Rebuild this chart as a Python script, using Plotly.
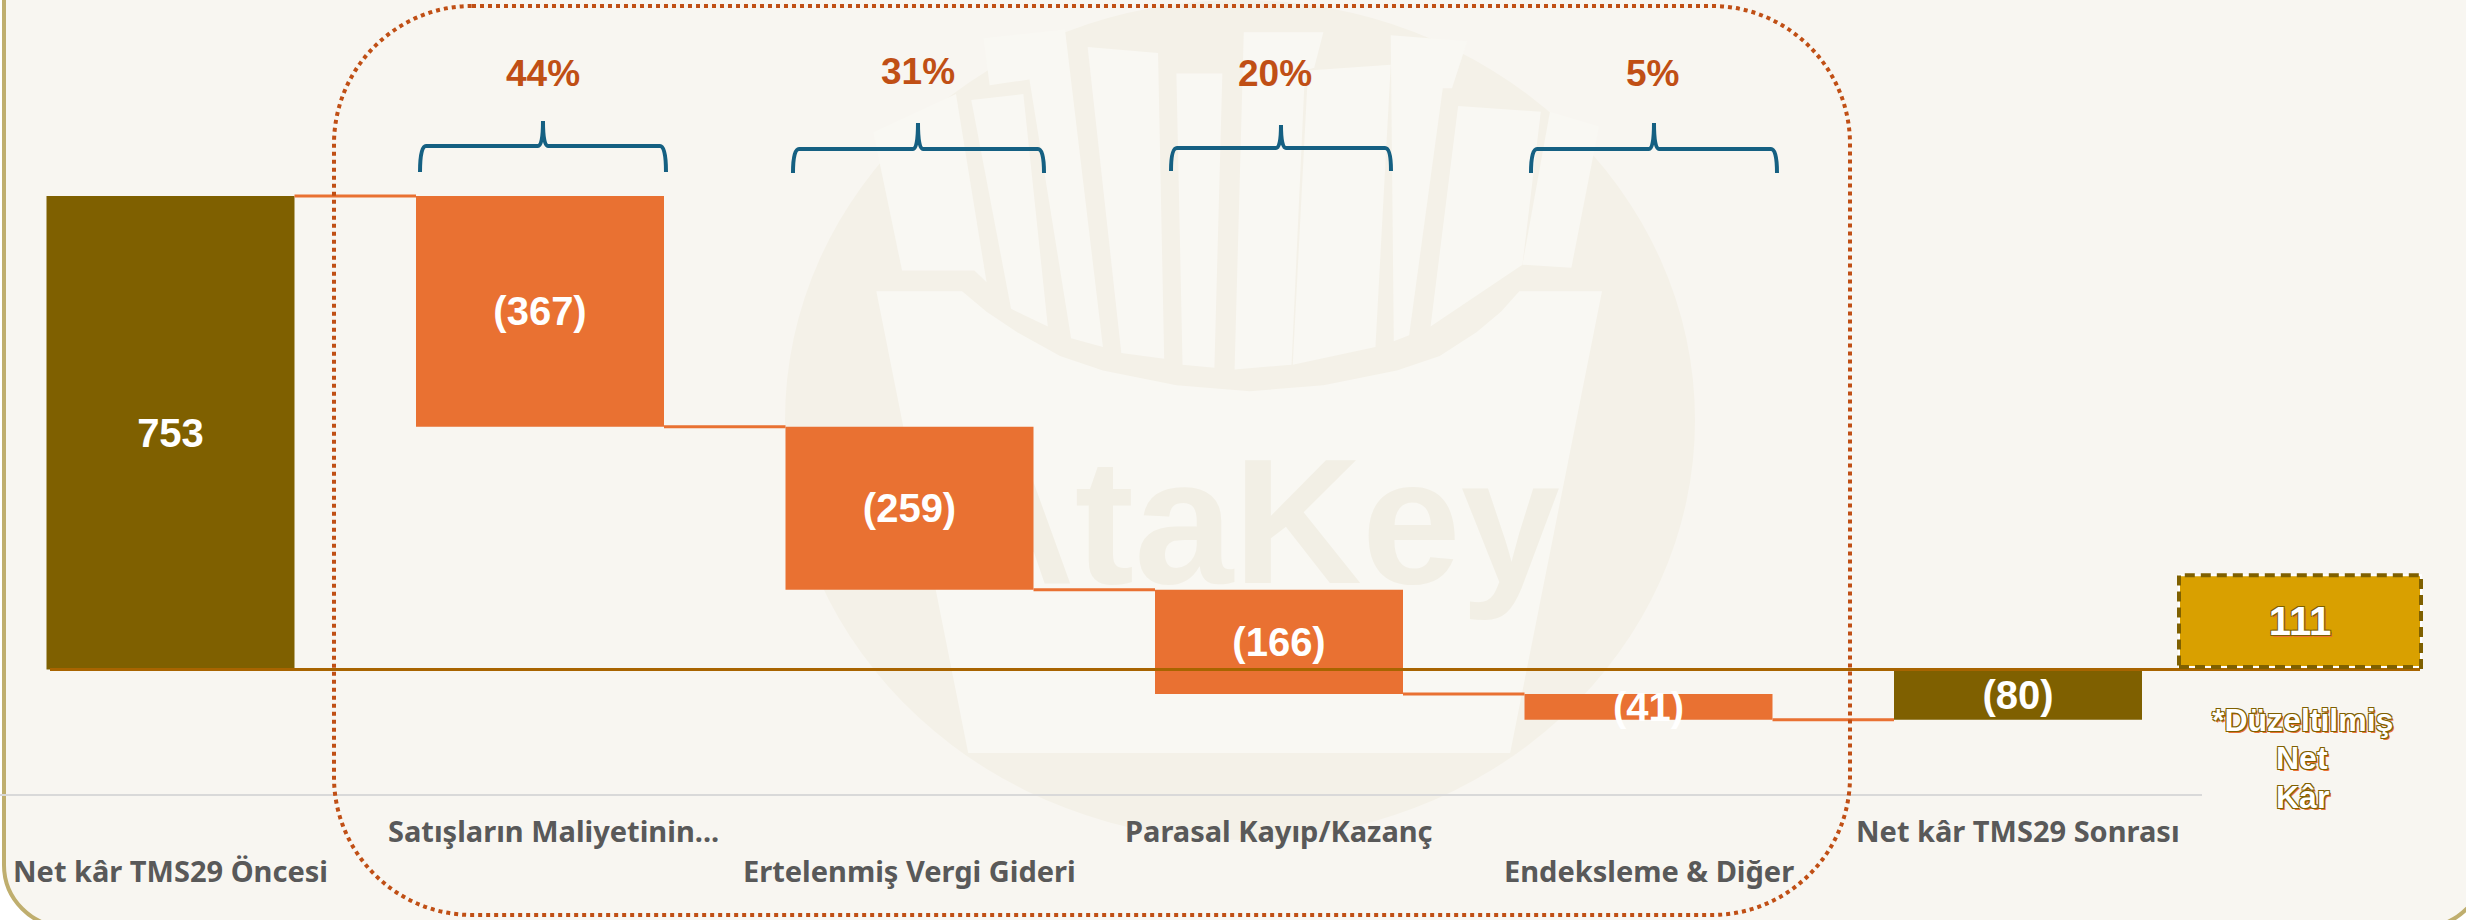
import plotly.graph_objects as go

# ---- data ----
categories = ["Net kâr TMS29 Öncesi", "Satışların Maliyetinin...", "Ertelenmiş Vergi Gideri",
              "Parasal Kayıp/Kazanç", "Endeksleme & Diğer", "Net kâr TMS29 Sonrası"]
steps = [753, -367, -259, -166, -41, -80]
value_labels = ["753", "(367)", "(259)", "(166)", "(41)", "(80)"]
share_labels = ["44%", "31%", "20%", "5%"]
adjusted_label = "111"
adjusted_box_base = 4
adjusted_box_height = 146
adjusted_title = ["*Düzeltilmiş", "Net", "Kâr"]

# ---- styles ----
W, H = 2466, 920
AXIS_Y = 795
BAND = 369.5
X0 = 170.5
BG = "#F8F6F1"
MARK = "#F4F1E8"
LIGHT = "#F9F8F3"
BROWN = "#7F6000"
ORANGE = "#E97132"
DARK_ORANGE = "#C04F15"
GOLD = "#D9A000"
BLUE = "#156082"
ZERO = "#A86400"
GREY = "#595959"
ARIAL = "Liberation Sans"
UNIT = 473.5 / 753
OUTLINE = ("-1px -1px 0 #7F6000,1px -1px 0 #7F6000,-1px 1px 0 #7F6000,"
           "1px 1px 0 #7F6000,2px 2px 0 #E97132")


def px(x):
    return x / W


def py(y):
    return (AXIS_Y - y) / AXIS_Y


def to_x(pixel):
    return (pixel - X0) / BAND


def poly(points):
    return "M" + " L".join(f"{px(x):.5f},{py(y):.5f}" for x, y in points) + " Z"


def rounded(x0, y0, x1, y1, r):
    k = r * 0.45
    P = lambda x, y: f"{px(x):.5f},{py(y):.5f}"
    return (f"M{P(x0 + r, y0)} L{P(x1 - r, y0)} C{P(x1 - k, y0)} {P(x1, y0 + k)} {P(x1, y0 + r)} "
            f"L{P(x1, y1 - r)} C{P(x1, y1 - k)} {P(x1 - k, y1)} {P(x1 - r, y1)} "
            f"L{P(x0 + r, y1)} C{P(x0 + k, y1)} {P(x0, y1 - k)} {P(x0, y1 - r)} "
            f"L{P(x0, y0 + r)} C{P(x0, y0 + k)} {P(x0 + k, y0)} {P(x0 + r, y0)} Z")


def brace(left, right, mid, tip, bar, foot):
    P = lambda x, y: f"{px(x):.5f},{py(y):.5f}"
    return (f"M{P(left, foot)} Q{P(left, bar)} {P(left + 6, bar)} L{P(mid - 5, bar)} "
            f"Q{P(mid, bar)} {P(mid, tip)} Q{P(mid, bar)} {P(mid + 5, bar)} "
            f"L{P(right - 6, bar)} Q{P(right, bar)} {P(right, foot)}")


# ---- running levels ----
bases, heights, level = [], [], 0
for i, s in enumerate(steps):
    if i == len(steps) - 1:
        bases.append(0)
        heights.append(s)
        level = s
    else:
        bases.append(level)
        heights.append(s)
        level += s
levels = []
running = 0
for s in steps[:-1]:
    running += s
    levels.append(running)

xs = list(range(len(categories)))
colors = [BROWN] + [ORANGE] * 4 + [BROWN]
bar_w = 248 / BAND
adj_x = to_x(2300)
adj_w = 242 / BAND

fig = go.Figure()

# connectors
for i, lv in enumerate(levels):
    fig.add_trace(go.Scatter(x=[i + bar_w / 2, i + 1 - bar_w / 2], y=[lv, lv],
                             mode="lines", line=dict(color=ORANGE, width=3), hoverinfo="skip", showlegend=False))

fig.add_trace(go.Bar(x=xs, y=heights, base=bases, width=bar_w, marker=dict(color=colors, line=dict(width=0)),
                     text=value_labels, textposition="inside", insidetextanchor="middle", textangle=0,
                     constraintext="none", cliponaxis=False,
                     textfont=dict(family=ARIAL, size=40, color="white", weight=700), showlegend=False))
fig.add_trace(go.Bar(x=[adj_x], y=[adjusted_box_height], base=[adjusted_box_base], width=adj_w,
                     marker=dict(color=GOLD, line=dict(width=0)),
                     text=[adjusted_label], textposition="inside", insidetextanchor="middle", textangle=0,
                     constraintext="none", cliponaxis=False,
                     textfont=dict(family=ARIAL, size=40, color="white", weight=700, shadow=OUTLINE),
                     showlegend=False))
# zero line
fig.add_trace(go.Scatter(x=[to_x(50), to_x(2420)], y=[0, 0], mode="lines",
                         line=dict(color=ZERO, width=3), hoverinfo="skip", showlegend=False))

# ---- watermark (zoom coordinates converted to pixels) ----
def wm(pts):
    return [(760 + x / 1.633, y / 1.7) for x, y in pts]


light_polys = [
    [(190, 495), (330, 495), (370, 530), (420, 565), (490, 605), (560, 630), (680, 655), (800, 665),
     (920, 655), (1040, 630), (1110, 605), (1170, 565), (1210, 530), (1240, 495),
     (1375, 495), (1225, 1280), (340, 1280)],
    [(185, 225), (320, 160), (370, 480), (350, 460), (232, 460)],
    [(1370, 215), (1290, 190), (1245, 450), (1325, 455)],
    [(365, 65), (498, 50), (560, 590), (508, 575), (440, 135), (375, 145)],
    [(345, 170), (430, 160), (470, 555), (410, 525)],
    [(535, 80), (650, 90), (660, 610), (590, 600)],
    [(680, 125), (755, 125), (742, 625), (690, 620)],
    [(790, 55), (920, 55), (905, 115), (890, 120), (868, 620), (775, 628)],
    [(895, 120), (1030, 110), (1005, 590), (870, 620)],
    [(1030, 60), (1155, 70), (1130, 150), (1115, 150), (1060, 570), (1035, 580)],
    [(1140, 180), (1275, 190), (1245, 450), (1095, 555)],
]

shapes = [
    dict(type="path", xref="paper", yref="paper", layer="below", path=rounded(4, -100, 2485, 927, 62),
         fillcolor=BG, line=dict(color="#BFAE6E", width=4)),
    dict(type="circle", xref="paper", yref="paper", layer="below",
         x0=px(1240 - 455), x1=px(1240 + 455), y0=py(840), y1=py(0),
         fillcolor=MARK, line=dict(width=0)),
]
for p in light_polys:
    shapes.append(dict(type="path", xref="paper", yref="paper", layer="below", path=poly(wm(p)),
                       fillcolor=LIGHT, line=dict(width=0)))

# watermark word, kept behind the bars as a label of an invisible shape
shapes.append(dict(type="rect", xref="paper", yref="paper", layer="below",
                   x0=px(1253 - 320), x1=px(1253 + 320), y0=py(604), y1=py(404),
                   line=dict(width=0), fillcolor="rgba(0,0,0,0)",
                   label=dict(text="AtaKey", textposition="middle center",
                              font=dict(family=ARIAL, size=178, color="#F2EFE5", weight=700))))

# axis rule
shapes.append(dict(type="line", xref="paper", yref="paper", layer="below", x0=0, x1=px(2202), y0=0, y1=0,
                   line=dict(color="#D9D9D9", width=2)))
# adjusted box dashes
for col, dash in (("white", "solid"), (BROWN, "10px,6px")):
    shapes.append(dict(type="rect", xref="x", yref="y", layer="above",
                       x0=adj_x - adj_w / 2, x1=adj_x + adj_w / 2,
                       y0=adjusted_box_base, y1=adjusted_box_base + adjusted_box_height,
                       line=dict(color=col, width=4 if col != "white" else 2, dash=dash)))
# dotted frame
shapes.append(dict(type="path", xref="paper", yref="paper", layer="above",
                   path=rounded(334, 6, 1850, 915, 138),
                   line=dict(color=DARK_ORANGE, width=4, dash="4px,4px")))
# braces
for left, right, mid, tip, bar, foot in [(420, 666, 543, 121, 146, 172), (793, 1044, 918, 123, 149, 173),
                                         (1171, 1391, 1281, 125, 148, 171), (1531, 1777, 1654, 123, 149, 173)]:
    shapes.append(dict(type="path", xref="paper", yref="paper", layer="above",
                       path=brace(left, right, mid, tip, bar, foot), line=dict(color=BLUE, width=4)))

annotations = []
label_y = [870, 830, 870, 830, 870, 830]
label_shift = [0, 13, 0, 0, 0, 0]
for i, c in enumerate(categories):
    annotations.append(dict(text=c, xref="x", yref="paper", x=i, y=py(label_y[i]), xshift=label_shift[i],
                            showarrow=False, xanchor="center", yanchor="middle",
                            font=dict(family="Noto Sans", size=29, color=GREY, weight=700)))
for txt, cx, cy in zip(share_labels, [543, 918, 1275, 1652], [74, 72, 74, 74]):
    annotations.append(dict(text=txt, xref="paper", yref="paper", x=px(cx), y=py(cy), showarrow=False,
                            xanchor="center", yanchor="middle",
                            font=dict(family=ARIAL, size=37, color=DARK_ORANGE, weight=700)))
for txt, cy in zip(adjusted_title, [720, 758, 797]):
    annotations.append(dict(text=txt, xref="paper", yref="paper", x=px(2302), y=py(cy), showarrow=False,
                            xanchor="center", yanchor="middle", align="center",
                            font=dict(family=ARIAL, size=32, color="white", weight=700, shadow=OUTLINE)))

fig.update_layout(
    width=W, height=H, margin=dict(l=0, r=0, t=0, b=H - AXIS_Y, pad=0),
    paper_bgcolor="white", plot_bgcolor="rgba(0,0,0,0)",
    xaxis=dict(range=[to_x(0), to_x(W)], visible=False),
    yaxis=dict(range=[-(AXIS_Y - 669.5) / UNIT, 669.5 / UNIT], visible=False),
    barmode="overlay", showlegend=False, shapes=shapes, annotations=annotations,
)
fig.write_html("out.html", config={"displayModeBar": False},
               post_script="document.body.style.margin='0';document.body.style.overflow='hidden';")
